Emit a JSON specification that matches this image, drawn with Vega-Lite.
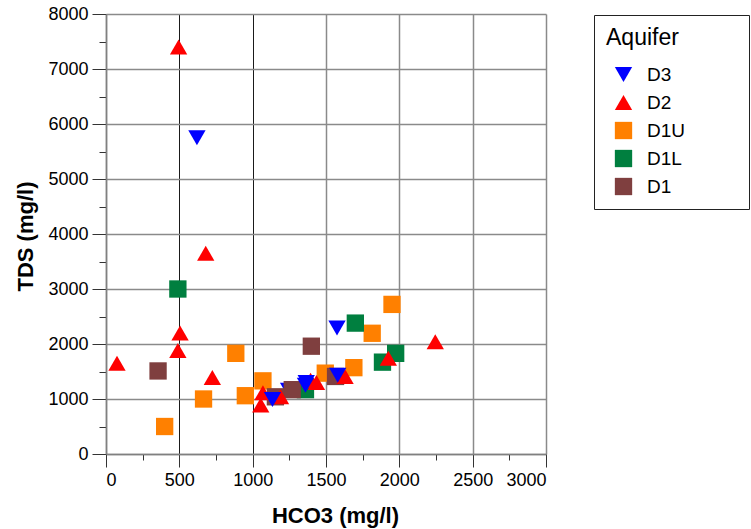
{
  "$schema": "https://vega.github.io/schema/vega-lite/v6.json",
  "width": 440,
  "height": 440,
  "autosize": {"type": "none"},
  "padding": {"left": 106, "top": 14, "right": 205, "bottom": 75},
  "background": "white",
  "data": {
    "values": [
      {"Aquifer": "D1U", "HCO3": 885, "TDS": 1830},
      {"Aquifer": "D1U", "HCO3": 665, "TDS": 1000},
      {"Aquifer": "D1U", "HCO3": 950, "TDS": 1060},
      {"Aquifer": "D1U", "HCO3": 400, "TDS": 500},
      {"Aquifer": "D1U", "HCO3": 1070, "TDS": 1330},
      {"Aquifer": "D1U", "HCO3": 1495, "TDS": 1470},
      {"Aquifer": "D1U", "HCO3": 1690, "TDS": 1570},
      {"Aquifer": "D1U", "HCO3": 1815, "TDS": 2195},
      {"Aquifer": "D1U", "HCO3": 1950, "TDS": 2720},
      {"Aquifer": "D1L", "HCO3": 490, "TDS": 3000},
      {"Aquifer": "D1L", "HCO3": 1700, "TDS": 2380},
      {"Aquifer": "D1L", "HCO3": 1975, "TDS": 1830},
      {"Aquifer": "D1L", "HCO3": 1885, "TDS": 1670},
      {"Aquifer": "D1L", "HCO3": 1360, "TDS": 1170},
      {"Aquifer": "D3", "HCO3": 1245, "TDS": 1160},
      {"Aquifer": "D1", "HCO3": 355, "TDS": 1510},
      {"Aquifer": "D1", "HCO3": 1400, "TDS": 1960},
      {"Aquifer": "D1", "HCO3": 1270, "TDS": 1170},
      {"Aquifer": "D1", "HCO3": 1155, "TDS": 1040},
      {"Aquifer": "D1", "HCO3": 1565, "TDS": 1410},
      {"Aquifer": "D2", "HCO3": 495, "TDS": 7400},
      {"Aquifer": "D2", "HCO3": 680, "TDS": 3650},
      {"Aquifer": "D2", "HCO3": 505, "TDS": 2200},
      {"Aquifer": "D2", "HCO3": 490, "TDS": 1880},
      {"Aquifer": "D2", "HCO3": 75, "TDS": 1650},
      {"Aquifer": "D2", "HCO3": 725, "TDS": 1390},
      {"Aquifer": "D2", "HCO3": 1055, "TDS": 890},
      {"Aquifer": "D2", "HCO3": 1070, "TDS": 1115},
      {"Aquifer": "D2", "HCO3": 1190, "TDS": 1040},
      {"Aquifer": "D2", "HCO3": 1395, "TDS": 1340},
      {"Aquifer": "D2", "HCO3": 1435, "TDS": 1300},
      {"Aquifer": "D2", "HCO3": 1630, "TDS": 1410},
      {"Aquifer": "D2", "HCO3": 1925, "TDS": 1740},
      {"Aquifer": "D2", "HCO3": 2245, "TDS": 2040},
      {"Aquifer": "D3", "HCO3": 620, "TDS": 5750},
      {"Aquifer": "D3", "HCO3": 1575, "TDS": 2290},
      {"Aquifer": "D3", "HCO3": 1580, "TDS": 1430},
      {"Aquifer": "D3", "HCO3": 1365, "TDS": 1300},
      {"Aquifer": "D3", "HCO3": 1360, "TDS": 1250},
      {"Aquifer": "D3", "HCO3": 1135, "TDS": 990}
    ]
  },
  "mark": {"type": "point", "filled": true, "opacity": 1, "strokeWidth": 0},
  "encoding": {
    "x": {
      "field": "HCO3",
      "type": "quantitative",
      "scale": {"domain": [0, 3000], "nice": false, "zero": true},
      "axis": {
        "title": "HCO3 (mg/l)",
        "values": [0, 250, 500, 750, 1000, 1250, 1500, 1750, 2000, 2250, 2500, 2750, 3000],
        "labelExpr": "datum.value % 500 === 0 ? datum.label : ''",
        "format": "d",
        "tickSize": {"condition": {"test": "datum.value % 500 === 0", "value": 13}, "value": 6},
        "gridOpacity": {"condition": {"test": "datum.value % 500 === 0", "value": 1}, "value": 0},
        "gridColor": {"condition": {"test": "datum.value === 500 || datum.value === 1000", "value": "#1a1a1a"}, "value": "#8a8a8a"},
        "gridWidth": {"condition": {"test": "datum.value === 500 || datum.value === 1000", "value": 1}, "value": 1.5},
        "labelPadding": 4,
        "titleX": 229,
        "titleY": 68,
        "titleBaseline": "alphabetic",
        "titleAnchor": "middle"
      }
    },
    "y": {
      "field": "TDS",
      "type": "quantitative",
      "scale": {"domain": [0, 8000], "nice": false},
      "axis": {
        "title": "TDS (mg/l)",
        "values": [0, 500, 1000, 1500, 2000, 2500, 3000, 3500, 4000, 4500, 5000, 5500, 6000, 6500, 7000, 7500, 8000],
        "labelExpr": "datum.value % 1000 === 0 ? datum.label : ''",
        "format": "d",
        "tickSize": {"condition": {"test": "datum.value % 1000 === 0", "value": 14}, "value": 7},
        "gridOpacity": {"condition": {"test": "datum.value % 1000 === 0", "value": 1}, "value": 0},
        "gridColor": "#8a8a8a",
        "gridWidth": 1.5,
        "labelPadding": 4,
        "titleX": -74,
        "titleY": 222,
        "titleAngle": 270,
        "titleBaseline": "alphabetic",
        "titleAnchor": "middle"
      }
    },
    "color": {
      "field": "Aquifer",
      "type": "nominal",
      "scale": {
        "domain": ["D3", "D2", "D1U", "D1L", "D1"],
        "range": ["#0000ff", "#ff0000", "#ff8000", "#007f3f", "#7f3f3f"]
      },
      "legend": {"title": "Aquifer\u00a0\u2800\u2800\u2800"}
    },
    "shape": {
      "field": "Aquifer",
      "type": "nominal",
      "scale": {
        "domain": ["D3", "D2", "D1U", "D1L", "D1"],
        "range": ["triangle-down", "triangle-up", "square", "square", "square"]
      },
      "legend": {"title": "Aquifer\u00a0\u2800\u2800\u2800"}
    },
    "size": {
      "field": "Aquifer",
      "type": "nominal",
      "scale": {
        "domain": ["D3", "D2", "D1U", "D1L", "D1"],
        "range": [300, 300, 256, 256, 256]
      },
      "legend": {"title": "Aquifer\u00a0\u2800\u2800\u2800"}
    }
  },
  "config": {
    "font": "Liberation Sans",
    "view": {"stroke": null},
    "axis": {
      "labelFont": "Liberation Sans",
      "labelFontSize": 18,
      "labelColor": "#000000",
      "titleFont": "Liberation Sans",
      "titleFontSize": 22,
      "titleFontWeight": "bold",
      "titleColor": "#000000",
      "domainColor": "#808080",
      "domainWidth": 1.5,
      "tickColor": "#333333",
      "tickWidth": 1,
      "grid": true
    },
    "legend": {
      "orient": "none",
      "legendX": 488,
      "legendY": 1,
      "padding": 12,
      "fillColor": "#ffffff",
      "strokeColor": "#222222",
      "titleFont": "Liberation Sans",
      "titleFontSize": 23,
      "titleFontWeight": "normal",
      "titleColor": "#000000",
      "titlePadding": 15,
      "labelFont": "Liberation Sans",
      "labelFontSize": 19,
      "labelColor": "#000000",
      "rowPadding": 8,
      "symbolOffset": 8,
      "labelOffset": 14,
      "symbolStrokeWidth": 0
    }
  }
}
